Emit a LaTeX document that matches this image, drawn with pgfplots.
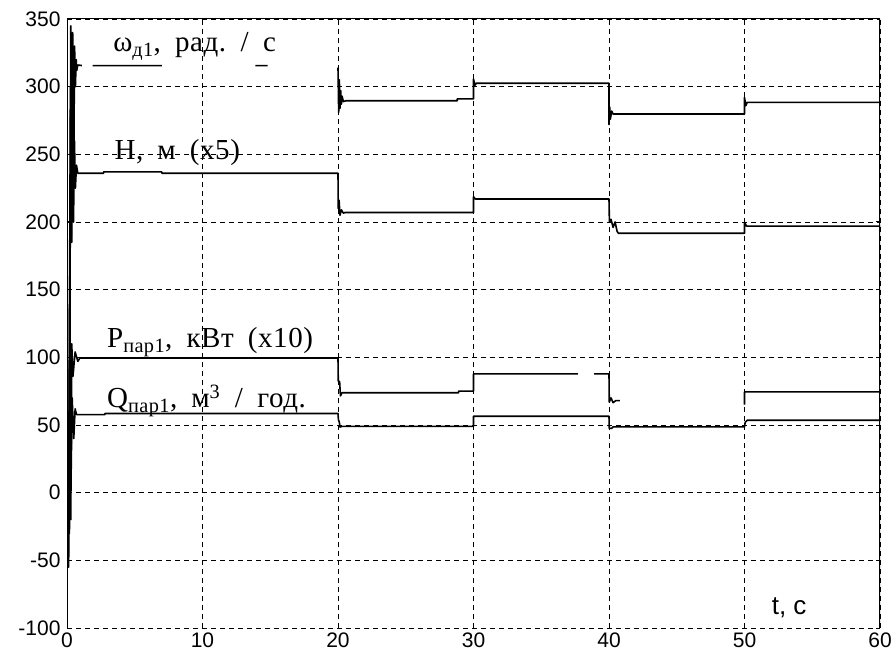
\documentclass[border=0pt]{standalone}
\usepackage{fontspec}
\setmainfont{Liberation Serif}
\newfontfamily\tickfont{Liberation Sans}
\newfontfamily\lblfont[LetterSpace=2,WordSpace=1.8]{Liberation Serif}
\usepackage{pgfplots}
\pgfplotsset{compat=1.18}
\begin{document}
\begin{tikzpicture}
\begin{axis}[
  scale only axis, width=813pt, height=609pt,
  xmin=0, xmax=60, ymin=-100, ymax=350,
  xtick={0,10,20,30,40,50,60},
  ytick={-100,-50,0,50,100,150,200,250,300,350},
  xmajorgrids, ymajorgrids,
  grid style={black, line width=0.9pt, dash pattern=on 5pt off 4pt},
  major grid style={black, line width=0.9pt, dash pattern=on 5pt off 4pt},
  tick align=inside, major tick length=4pt,
  ytick style={black, line width=1pt},
  xtick style={draw=none},
  axis line style={draw=none},
  ticklabel style={font=\tickfont\fontsize{21}{21}\selectfont},
  /pgf/number format/assume math mode=true,
  yticklabel style={xshift=-3pt},
  xticklabel style={yshift=-1pt},
  unbounded coords=jump,
  cycle list={{black}},
  every axis plot post/.append style={black, solid, mark=none, line width=1.6pt, line join=round},
]
\draw[line width=1.8pt] (rel axis cs:0,0) -- (rel axis cs:0,1);
\draw[line width=1pt] (rel axis cs:0,1) -- (rel axis cs:1,1);
\draw[line width=1.8pt] (rel axis cs:1,1) -- (rel axis cs:1,0);
% omega_d1
\addplot coordinates {
 (0,0) (0.18,-30) (0.28,345) (0.35,185) (0.42,340) (0.5,240) (0.56,330) (0.62,300) (0.68,320) (0.72,312) (0.8,316)
 (1.1,315.6) (1.1,nan) (1.9,315.6)
 (7.0,315.6) (7.0,nan) (13.9,315.6) (14.8,315.6) (14.8,nan)
 (20.0,314) (20.05,281) (20.1,305) (20.15,284) (20.2,297) (20.25,287) (20.3,293) (20.4,289) (20.6,289.6) (28.8,289.6) (28.8,291) (30,291)
 (30,305.7) (30.1,301) (30.2,302.5) (40,302.5)
 (40,272) (40.05,285) (40.1,276) (40.2,282) (40.3,279.8) (50,279.8)
 (50,292) (50.1,286) (50.2,288.4) (60,288.4)
};
% H
\addplot coordinates {
 (0,0) (0.15,40) (0.25,300) (0.32,190) (0.4,280) (0.48,200) (0.55,260) (0.62,225) (0.7,242) (0.8,236)
 (2.7,236) (2.7,237) (7,237) (7,236) (20,236)
 (20.02,210) (20.08,216) (20.15,205) (20.25,209) (20.4,206.5) (20.5,207) (30,207)
 (30,218.6) (30.15,217) (40,217)
 (40.03,200) (40.15,202) (40.3,196) (40.45,200) (40.6,193) (40.7,191.7) (50,191.7)
 (50,199.8) (50.15,197) (60,197)
};
% P
\addplot coordinates {
 (0,0) (0.1,-45) (0.2,160) (0.28,-20) (0.35,110) (0.44,86) (0.6,104) (0.8,97) (0.95,99.5)
 (20,99.5) (20.02,82.5) (20.12,82) (20.18,71.5) (20.3,73.8) (28.9,73.8) (28.9,75) (30,75)
 (30,87.8) (37.7,87.8) (37.7,nan) (38.9,87.8) (40,87.8)
 (40.02,67) (40.15,70) (40.3,66.5) (40.5,68) (40.8,68) (40.8,nan)
 (50,65) (50,74.5) (60,74.5)
};
% Q
\addplot coordinates {
 (0,0) (0.12,-55) (0.22,80) (0.3,10) (0.38,70) (0.5,40) (0.6,62) (0.7,57.7)
 (2.8,57.7) (2.8,58.5) (20,58.5)
 (20.03,54) (20.1,52) (20.15,48.5) (20.3,49) (30,49)
 (30,56.5) (40,56.5)
 (40.02,47.5) (40.2,47.5) (40.3,48.6) (50,48.6)
 (50.05,52) (50.2,53.5) (60,53.5)
};
\node[anchor=base west, font=\lblfont\fontsize{29}{29}\selectfont, inner sep=0pt] at (axis cs:3.4,326) {ω\textsubscript{д1}, рад.\enspace/\enspace с};
\node[anchor=base west, font=\lblfont\fontsize{29}{29}\selectfont, inner sep=0pt] at (axis cs:3.5,246.5) {Н, м (х5)};
\node[anchor=base west, font=\lblfont\fontsize{29}{29}\selectfont, inner sep=0pt] at (axis cs:2.95,107.3) {Р\textsubscript{пар1}, кВт (х10)};
\node[anchor=base west, font=\lblfont\fontsize{29}{29}\selectfont, inner sep=0pt] at (axis cs:2.95,62.9) {Q\textsubscript{пар1}, м\textsuperscript{3}\enspace/\enspace год.};
\node[anchor=base west, font=\tickfont\fontsize{26}{26}\selectfont, inner sep=0pt] at (axis cs:52.0,-90) {t, c};
\end{axis}
\pgfresetboundingbox
\path (-67pt,-29pt) rectangle (825pt,628pt);
\end{tikzpicture}
\end{document}
